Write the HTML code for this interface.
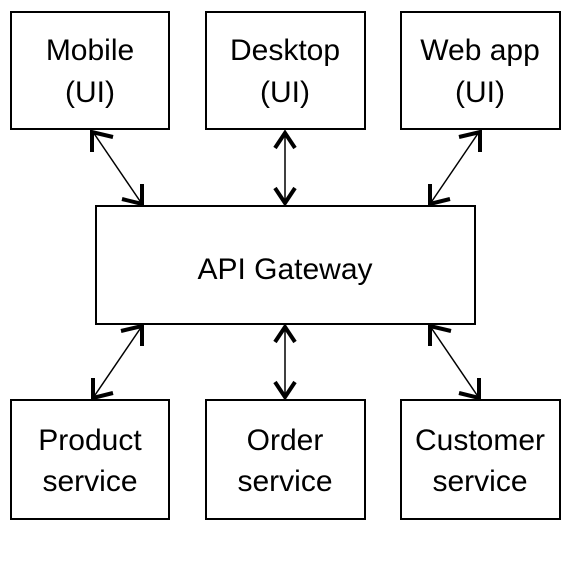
<!DOCTYPE html>
<html><head><style>
body{margin:0;background:#fff;}
svg text{font-family:"Liberation Sans",sans-serif;font-size:30px;fill:#000;text-anchor:middle;}
</style></head><body>
<svg width="572" height="556" viewBox="0 0 572 556" xmlns="http://www.w3.org/2000/svg">
<g fill="none" stroke="#000" stroke-width="2">
<rect x="11" y="12" width="158" height="117"/>
<rect x="206" y="12" width="159" height="117"/>
<rect x="401" y="12" width="159" height="117"/>
<rect x="96" y="206" width="379" height="118"/>
<rect x="11" y="400" width="158" height="119"/>
<rect x="206" y="400" width="159" height="119"/>
<rect x="401" y="400" width="159" height="119"/>
</g>
<g stroke="#000" stroke-width="1.5" fill="none">
<line x1="93" y1="132" x2="142" y2="204"/>
<line x1="285" y1="132" x2="285" y2="204"/>
<line x1="479" y1="132" x2="430" y2="204"/>
<line x1="142" y1="326" x2="93" y2="398"/>
<line x1="285" y1="326" x2="285" y2="398"/>
<line x1="430" y1="326" x2="479" y2="398"/>
</g>
<g stroke="#000" stroke-width="4" fill="none" stroke-linecap="butt">
<polyline points="92,152 92,132 113,137"/>
<polyline points="122,199 142,204 142,184"/>
<polyline points="275,148 285,133 295,148"/>
<polyline points="275,188 285,203 295,188"/>
<polyline points="480,152 480,132 459,137"/>
<polyline points="450,199 430,204 430,184"/>
<polyline points="142,346 142,326 121,331"/>
<polyline points="113,393 93,398 93,378"/>
<polyline points="275,342 285,327 295,342"/>
<polyline points="275,382 285,397 295,382"/>
<polyline points="430,346 430,326 451,331"/>
<polyline points="459,393 479,398 479,378"/>
</g>
<text x="90" y="60">Mobile</text><text x="90" y="102">(UI)</text>
<text x="285" y="60">Desktop</text><text x="285" y="102">(UI)</text>
<text x="480" y="60">Web app</text><text x="480" y="102">(UI)</text>
<text x="285" y="279">API Gateway</text>
<text x="90" y="450">Product</text><text x="90" y="491">service</text>
<text x="285" y="450">Order</text><text x="285" y="491">service</text>
<text x="480" y="450">Customer</text><text x="480" y="491">service</text>
</svg>
</body></html>
